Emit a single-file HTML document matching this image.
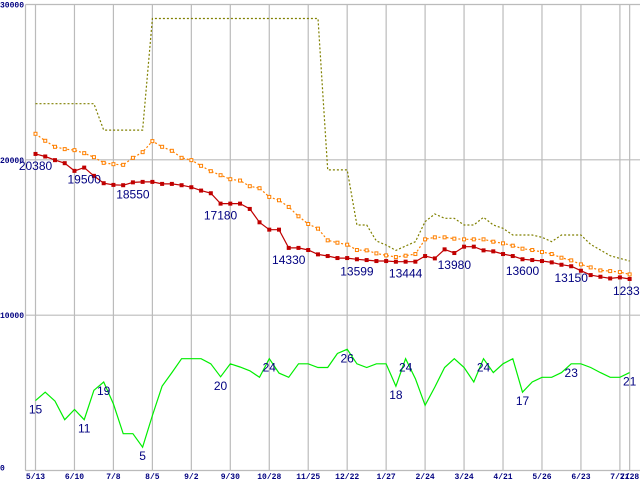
<!DOCTYPE html>
<html><head><meta charset="utf-8"><style>
html,body{margin:0;padding:0;background:#fff;}
svg{display:block;font-family:"Liberation Sans",sans-serif;}
</style></head><body>
<svg id="chart" width="640" height="480" viewBox="0 0 640 480" xmlns="http://www.w3.org/2000/svg"></svg>
<script>
const xTickLabels=["5/13","6/10","7/8","8/5","9/2","9/30","10/28","11/25","12/22","1/27","2/24","3/24","4/21","5/26","6/23","7/21","7/28"];
const xTickIdx=[0,4,8,12,16,20,24,28,32,36,40,44,48,52,56,60,61];
const yTickVals=[0,10000,20000,30000];
const redSeries=[20380,20215,19980,19785,19290,19500,18968,18495,18387,18366,18550,18580,18580,18451,18451,18366,18236,18021,17849,17180,17180,17180,16839,15978,15505,15505,14330,14330,14194,13914,13806,13677,13677,13599,13548,13484,13484,13441,13444,13444,13806,13655,14237,14000,14409,14409,14172,14108,13935,13806,13600,13548,13484,13398,13247,13150,12860,12580,12473,12365,12430,12330];
const orangeSeries=[21677,21226,20839,20690,20624,20430,20172,19806,19720,19677,20129,20495,21204,20839,20581,20129,19980,19613,19269,19011,18753,18666,18302,18172,17613,17398,16968,16366,15870,15570,14817,14666,14537,14194,14172,13978,13849,13742,13828,13935,14882,15011,15011,14925,14882,14882,14882,14730,14624,14473,14280,14194,14065,13935,13699,13527,13269,13075,12882,12838,12774,12624];
const oliveSeries=[23613,23613,23613,23613,23613,23613,23613,21915,21915,21915,21915,21915,29097,29097,29097,29097,29097,29097,29097,29097,29097,29097,29097,29097,29097,29097,29097,29097,29097,29097,19355,19355,19355,15806,15806,14774,14516,14172,14451,14730,16021,16516,16236,16236,15806,15806,16301,15806,15591,15161,15161,15161,15011,14730,15161,15161,15161,14559,14194,13828,13656,13484];
const greenSeries=[15,16.8,14.9,10.9,13.1,10.9,17.2,19,14.3,7.9,7.9,5,11.8,18.1,21,24,24,24,22.9,20.1,22.9,22.2,21.4,20,24,20.9,20,22.9,22.9,22.1,22.1,25.1,26,22.9,22.1,22.9,22.9,18.1,24,19.7,14,17.9,22.1,24,22.1,19,24,21,22.9,24,16.8,19,20,20,21,22.9,22.9,22.1,21,20,20,21];
const redLabelIdx=[0,5,10,19,26,33,38,43,50,55,61];
const redLabelText=["20380","19500","18550","17180","14330","13599","13444","13980","13600","13150","12330"];
const greenLabelIdx=[0,5,7,11,19,24,32,37,38,46,50,55,61];
const greenLabelText=["15","11","19","5","20","24","26","18","24","24","17","23","21"];

const NS="http://www.w3.org/2000/svg";
const svg=document.getElementById('chart');
const X0=35.5,DX=9.74,Y0=470.5,YT=4.5;
function xs(i){return X0+i*DX;}
function ys(v){return Y0-(v/30000)*(Y0-YT);}
function yg(v){return Y0-(v/100)*(Y0-YT);}
function mk(tag,attrs,parent){const e=document.createElementNS(NS,tag);for(const k in attrs)e.setAttribute(k,attrs[k]);(parent||svg).appendChild(e);return e;}

const grid=mk('g',{});


mk('line',{x1:25.5,y1:YT,x2:25.5,y2:Y0,stroke:'#bbb','stroke-width':1.2},grid);
yTickVals.forEach(v=>{
  const l=mk('line',{x1:25.5,y1:ys(v),x2:640,y2:ys(v),stroke:'#bbb','stroke-width':1.2},grid);
  
  
  const t=mk('text',{x:0,y:ys(v)+(v===0?0:3),'font-size':8,'font-weight':'bold',fill:'#000080','font-family':'Liberation Mono, monospace'});
  t.textContent=String(v);
  
  
});
xTickIdx.forEach((ix,k)=>{
  const x=xs(ix);
  const l=mk('line',{x1:x,y1:YT,x2:x,y2:Y0,stroke:'#bbb','stroke-width':1.2},grid);
  
  
  const t=mk('text',{x:x,y:479,'font-size':8,'font-weight':'bold',fill:'#000080','text-anchor':'middle','font-family':'Liberation Mono, monospace'});
  t.textContent=xTickLabels[k];
  
  
});

function pts(arr,f){return arr.map((v,i)=>xs(i).toFixed(1)+','+f(v).toFixed(1)).join(' ');}

const ol=mk('polyline',{points:pts(oliveSeries,ys),fill:'none',stroke:'#808000','stroke-width':1.2,'stroke-dasharray':'2,2'});



const gl=mk('polyline',{points:pts(greenSeries,yg),fill:'none',stroke:'#00ee00','stroke-width':1.2});



const orl=mk('polyline',{points:pts(orangeSeries,ys),fill:'none',stroke:'#ff8000','stroke-width':1.2,'stroke-dasharray':'2,2'});


orangeSeries.forEach((v,i)=>{
  const r=mk('rect',{x:xs(i)-1.5,y:ys(v)-1.5,width:3,height:3,fill:'#fff',stroke:'#ff8000','stroke-width':1});
  
  
});

const rl=mk('polyline',{points:pts(redSeries,ys),fill:'none',stroke:'#c00000','stroke-width':1.2});


redSeries.forEach((v,i)=>{
  const r=mk('rect',{x:xs(i)-2,y:ys(v)-2,width:4,height:4,fill:'#c00000'});
  
  
});

redLabelIdx.forEach((ix,k)=>{
  const t=mk('text',{x:xs(ix),y:ys(redSeries[ix])+16,'font-size':12,fill:'#000080','text-anchor':'middle'});
  t.textContent=redLabelText[k];
  
  
});
greenLabelIdx.forEach((ix,k)=>{
  const t=mk('text',{x:xs(ix),y:yg(greenSeries[ix])+13,'font-size':12,fill:'#000080','text-anchor':'middle'});
  t.textContent=greenLabelText[k];
  
  
});
</script>
</body></html>
